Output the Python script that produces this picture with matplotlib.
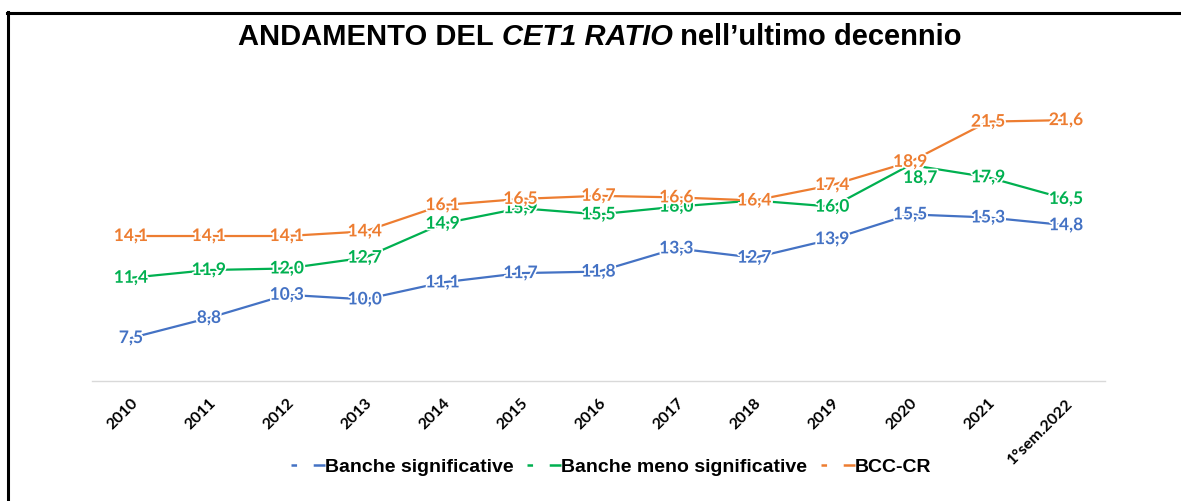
import matplotlib
matplotlib.use("Agg")
import matplotlib.pyplot as plt
import matplotlib.patheffects as pe
from matplotlib.lines import Line2D

# Data
years = ["2010", "2011", "2012", "2013", "2014", "2015", "2016", "2017",
         "2018", "2019", "2020", "2021", "1°sem.2022"]
banche_sig = [7.5, 8.8, 10.3, 10.0, 11.1, 11.7, 11.8, 13.3, 12.7, 13.9, 15.5, 15.3, 14.8]
banche_meno = [11.4, 11.9, 12.0, 12.7, 14.9, 15.9, 15.5, 16.0, 16.4, 16.0, 18.7, 17.9, 16.5]
bcc_cr = [14.1, 14.1, 14.1, 14.4, 16.1, 16.5, 16.7, 16.6, 16.4, 17.4, 18.9, 21.5, 21.6]

series_names = ["Banche significative", "Banche meno significative", "BCC-CR"]
colors = ["#4472C4", "#00B050", "#ED7D31"]

plt.rcParams["lines.scale_dashes"] = False

W, H = 1181, 501
fig = plt.figure(figsize=(W / 100, H / 100), dpi=100)

# axes placed in pixel terms
x0, x1 = 92, 1105
y_bot, y_top = 381, 83
ax = fig.add_axes([x0 / W, (H - y_bot) / H, (x1 - x0) / W, (y_bot - y_top) / H])

x = list(range(len(years)))
halo = [pe.withStroke(linewidth=2.5, foreground="white")]

for vals, col, name in zip([banche_sig, banche_meno, bcc_cr], colors, series_names):
    ax.plot(x, vals, color=col, linewidth=1.6, solid_capstyle="round", zorder=2)
    for i, v in enumerate(vals):
        dx, dy = 0, 0
        if col == "#00B050" and i == 10:
            dx, dy = 10, -13  # label shifted below point
        ax.annotate(f"{v:.1f}".replace(".", ","), (i, v), xytext=(dx, dy),
                    textcoords="offset pixels", ha="center", va="center",
                    color=col, fontsize=12.5, fontfamily="Lato",
                    fontweight="bold", path_effects=halo, zorder=3)

ax.set_xlim(-0.5, len(years) - 0.5)
ax.set_ylim(4.72, 24.0)
ax.set_xticks(x)
ax.set_xticklabels(years, rotation=45, ha="right", va="top",
                   rotation_mode="anchor", fontsize=11.5,
                   fontfamily="Lato", fontweight="bold")
ax.tick_params(axis="x", length=0, pad=11)
ax.set_yticks([])
for s in ["top", "right", "left"]:
    ax.spines[s].set_visible(False)
ax.spines["bottom"].set_color("#D9D9D9")
ax.spines["bottom"].set_linewidth(1.0)

# Title, drawn piece by piece so the middle part can be italic
renderer = fig.canvas.get_renderer()
title_parts = [("ANDAMENTO DEL ", "normal"), ("CET1 RATIO", "italic"),
               (" nell\u2019ultimo decennio", "normal")]
texts = []
for txt, style in title_parts:
    t = fig.text(0, 1 - 37 / H, txt, ha="left", va="center", fontsize=21,
                 fontweight="bold", fontstyle=style, fontfamily="Liberation Sans")
    texts.append(t)
widths = [t.get_window_extent(renderer).width for t in texts]
start = 600 - sum(widths) / 2
for t, w in zip(texts, widths):
    t.set_x(start / W)
    start += w

# Legend
handles = [Line2D([], [], color=c, linewidth=1.8, dashes=(4, 12, 10, 100))
           for c in colors]
leg = fig.legend(handles, series_names, loc="center", bbox_to_anchor=(611 / W, 1 - 467 / H),
                 ncol=3, frameon=False, handlelength=1.75, handletextpad=0.0,
                 columnspacing=0.7, prop={"family": "Liberation Sans",
                                          "weight": "bold", "size": 14})

# Frame around the chart (left and top visible)
fig.add_artist(Line2D([7.5 / W, 7.5 / W], [0, 1 - 12 / H], color="black",
                      linewidth=2.2, transform=fig.transFigure))
fig.add_artist(Line2D([6.5 / W, 1], [1 - 13 / H, 1 - 13 / H], color="black",
                      linewidth=2.2, transform=fig.transFigure))

fig.savefig("out.png", dpi=100)
